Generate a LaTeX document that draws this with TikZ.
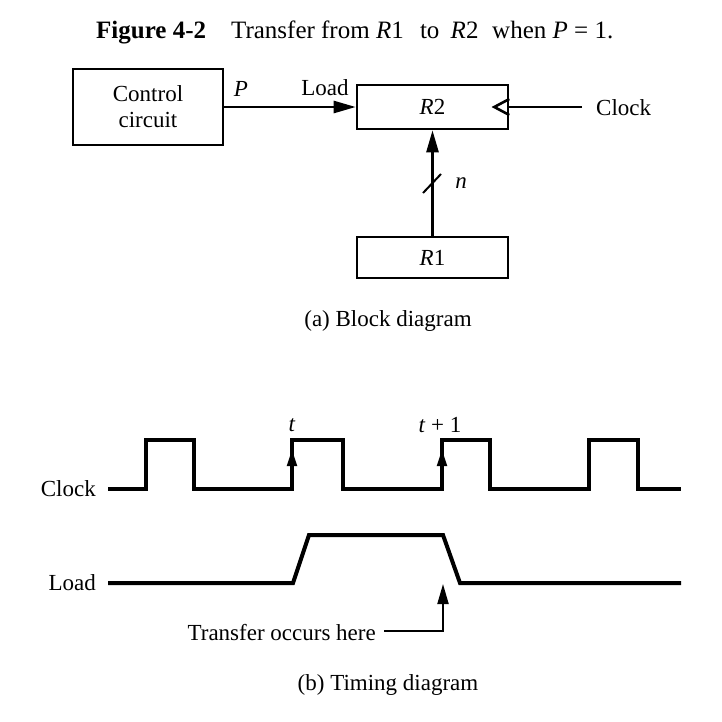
\documentclass[tikz,border=0pt]{standalone}
\usepackage{fontspec}
\setmainfont{Liberation Serif}
\usetikzlibrary{arrows.meta}
\begin{document}
\begin{tikzpicture}[x=1pt,y=-1pt,
  lbl/.style={font=\fontsize{23}{24}\selectfont, inner sep=0pt},
  block/.style={draw, line width=2.6pt, inner sep=0pt, font=\fontsize{23}{26}\selectfont, align=center},
  wire/.style={line width=2.6pt},
  arr/.style={wire, -{Triangle[length=22pt,width=12pt]}},
  wave/.style={line width=4pt, line join=miter},
  edgearr/.style={line width=2pt, -{Triangle[length=16pt,width=10pt]}}]
\useasboundingbox (0,0) rectangle (722,721);

% title
\node[font=\fontsize{25}{28}\selectfont, inner sep=0pt, anchor=base west] (title) at (96,38)
  {\textbf{Figure 4-2}\hspace{1em}Transfer from \textit{R}1\hspace{0.4em} to\hspace{0.2em} \textit{R}2\hspace{0.3em} when \textit{P} = 1.};

% ---------- (a) block diagram ----------
\node[block, minimum width=150pt, minimum height=76pt] (ctrl) at (148,107) {Control\\circuit};
\node[block, minimum width=151pt, minimum height=44pt] (r2) at (432.5,107) {\textit{R}2};
\node[block, minimum width=151pt, minimum height=41pt] (r1) at (432.5,257.5) {\textit{R}1};

\draw[arr] (ctrl.east) -- (r2.west);
\node[lbl] (plbl) at (241,89) {\textit{P}};
\node[lbl] (loadlbl) at (325,88) {Load};

% clock input with edge-trigger symbol
\draw[wire, line join=miter] ([yshift=8pt]r2.east) -- ++(-15,8) -- ++(15,8);
\node[lbl, anchor=west] (clk) at (596,108) {Clock};
\coordinate (clkend) at (582,107);
\draw[wire] (clkend) -- (r2.east);

% n-bit bus from R1 to R2
\draw[arr] (r1.north) -- (r2.south);
\draw[line width=2pt] (423,193) -- (441,174);
\node[lbl] (nlbl) at (461,183) {\textit{n}};

\node[lbl] (capa) at (388,321) {(a) Block diagram};

% ---------- (b) timing diagram ----------
\node[lbl, anchor=east] (clklbl) at (96,489) {Clock};
\node[lbl, anchor=east] (loadlbl2) at (96,583) {Load};

\draw[wave] (108,489) -- (146,489) -- (146,440) -- (194,440) -- (194,489)
  -- (292,489) -- (292,440) -- (343,440) -- (343,489)
  -- (442,489) -- (442,440) -- (490,440) -- (490,489)
  -- (589,489) -- (589,440) -- (638,440) -- (638,489) -- (681,489);

\draw[wave] (108,583) -- (293,583) -- (309,535) -- (443,535) -- (460,583) -- (681,583);

% edge markers on the active clock edges
\draw[edgearr] (292,480) -- (292,450);
\draw[edgearr] (442,480) -- (442,450);
\node[lbl] (tlbl) at (292,425) {\textit{t}};
\node[lbl] (t1lbl) at (440,425) {\textit{t} + 1};

% transfer instant
\node[lbl, anchor=east] (xfer) at (376,633) {Transfer occurs here};
\coordinate (xstart) at (384,631);
\draw[line width=2pt, -{Triangle[length=20pt,width=11pt]}] (xstart) -- (443,631) -- (443,584);

\node[lbl] (capb) at (388,685) {(b) Timing diagram};
\end{tikzpicture}
\end{document}
